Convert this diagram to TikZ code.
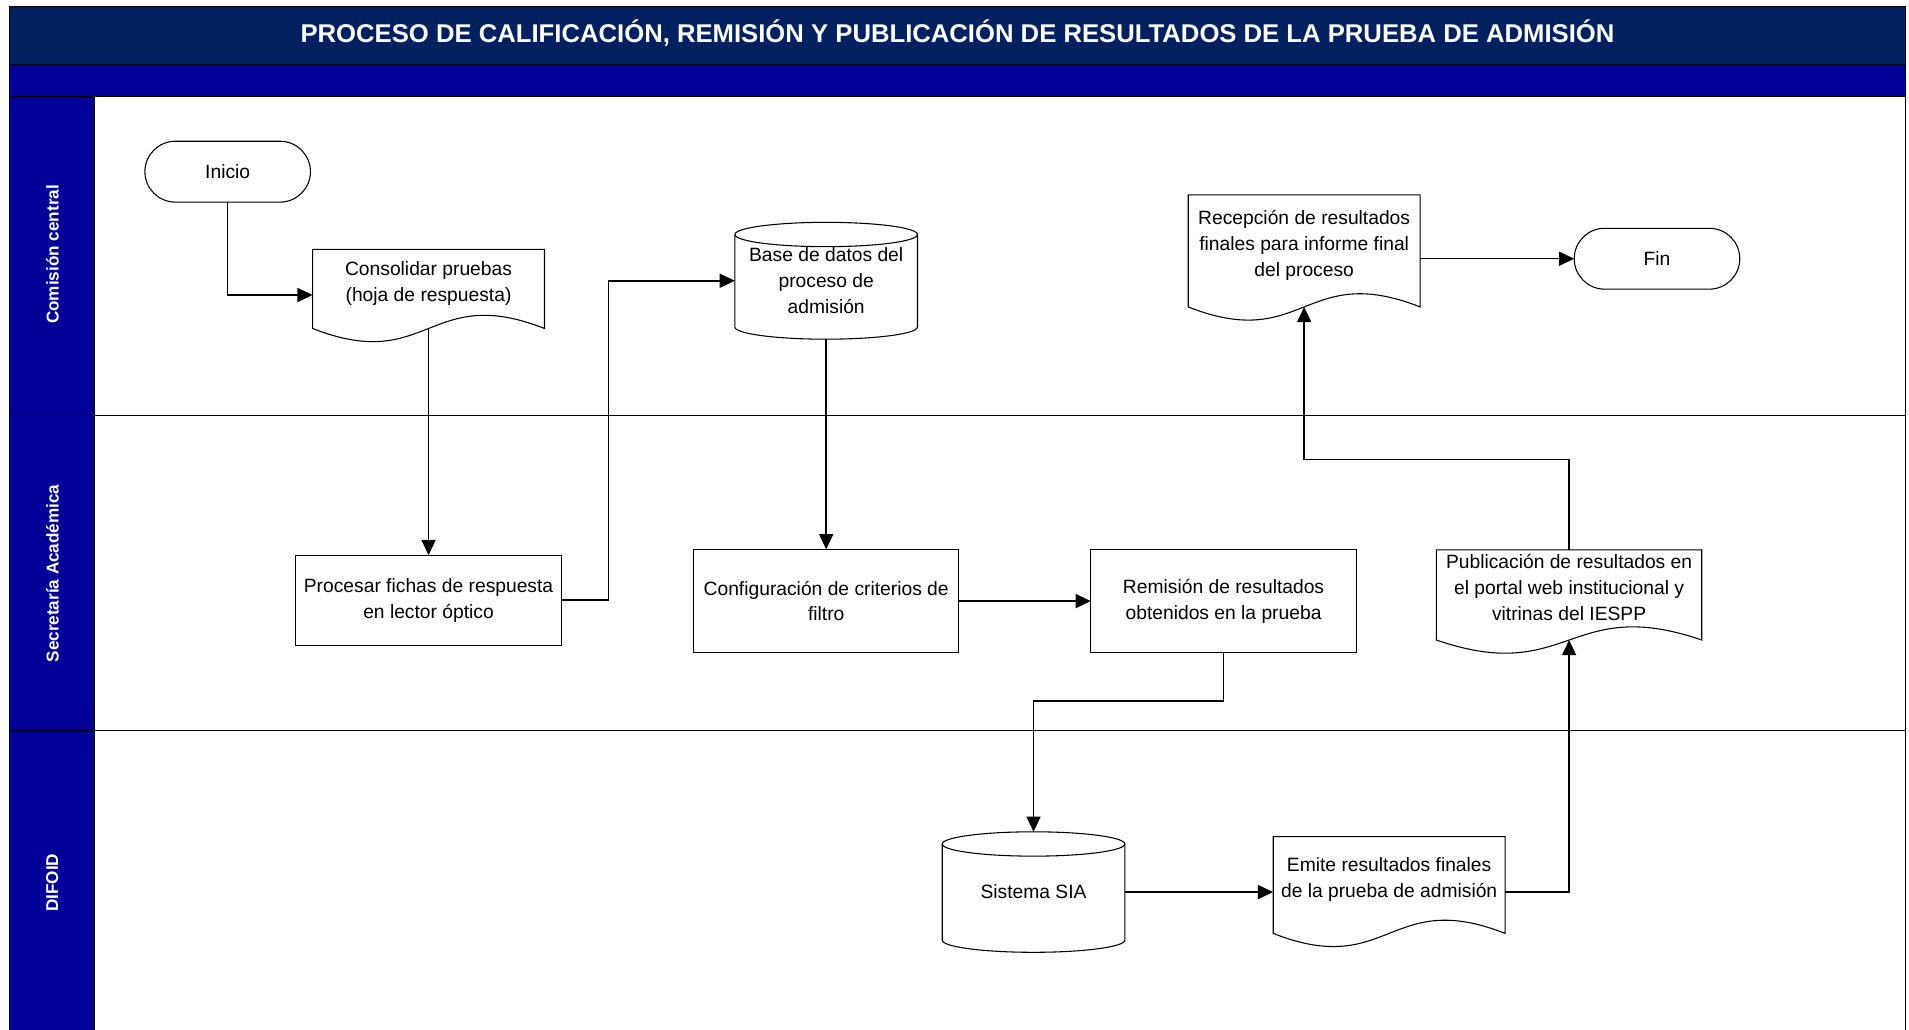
\documentclass[tikz,border=0pt]{standalone}
\usepackage{fontspec}
\setmainfont{Liberation Sans}
\usepackage{xcolor}
\usetikzlibrary{arrows.meta}
\definecolor{navy}{RGB}{0,32,96}
\definecolor{lane}{RGB}{0,0,153}

\begin{document}
\begin{tikzpicture}[x=0.02cm,y=-0.02cm,
        font=\fontsize{9}{12}\selectfont,
        proc/.style={rectangle,draw,line width=0.5pt,outer sep=0pt,minimum width=4.36cm,minimum height=1.7cm,align=center},
        term/.style={rectangle,draw,line width=0.5pt,outer sep=0pt,rounded corners=0.5cm,minimum width=2.72cm,minimum height=1cm},
        doc/.style={rectangle,outer sep=0pt,inner xsep=2pt,inner ysep=0pt,text depth=0.25cm,minimum width=3.81cm,align=center},
        db/.style={rectangle,outer sep=0pt,minimum width=3cm,align=center},
        flow/.style={-{Triangle[length=0.25cm,width=0.23cm]},line width=0.7pt},
        lanetext/.style={rotate=90,text=white,font=\bfseries\fontsize{8}{10}\selectfont}]
        \useasboundingbox (0,0) rectangle (1568,846);

        \fill[navy] (8,5) rectangle (1565,53);
        \fill[lane] (8,53) rectangle (1565,79);
        \fill[lane] (8,79) rectangle (78,850);
        \draw[line width=0.5pt] (8,5) rectangle (1565,850);
        \draw[line width=0.5pt] (8,53) -- (1565,53);
        \draw[line width=0.5pt] (8,79) -- (1565,79);
        \draw[line width=0.5pt] (78,79) -- (78,850);
        \draw[line width=0.5pt] (8,341) -- (1565,341);
        \draw[line width=0.5pt] (8,600) -- (1565,600);

        \node[text=white,font=\bfseries\fontsize{12}{14}\selectfont] (titulo) at (786.5,27)
            {PROCESO DE CALIFICACIÓN, REMISIÓN Y PUBLICACIÓN DE RESULTADOS DE LA PRUEBA DE ADMISIÓN};
        \node[lanetext] (comision) at (43,209) {Comisión central};
        \node[lanetext] (secretaria) at (43,471) {Secretaría Académica};
        \node[lanetext] (difoid) at (43,725) {DIFOID};

        \node[term] (inicio) at (187,141) {Inicio};
        \node[doc,minimum height=1.3cm] (consol) at (352,237.3) {Consolidar pruebas\\(hoja de respuesta)};
        \node[db,minimum height=1.92cm] (bd) at (678.6,230.6) {Base de datos del\\proceso de\\admisión};
        \node[doc,minimum height=1.84cm] (recep) at (1071.2,206.1) {Recepción de resultados\\finales para informe final\\del proceso};
        \node[term] (fin) at (1361,212.5) {Fin};
        \node[proc,minimum height=1.48cm] (procesar) at (352,493) {Procesar fichas de respuesta\\en lector óptico};
        \node[proc] (config) at (678.6,493.7) {Configuración de criterios de\\filtro};
        \node[proc] (remision) at (1005,493.7) {Remisión de resultados\\obtenidos en la prueba};
        \node[doc,minimum width=4.36cm,minimum height=1.48cm] (pub) at (1288.8,488.7) {Publicación de resultados en\\el portal web institucional y\\vitrinas del IESPP};
        \node[db,minimum height=1.98cm] (sia) at (848.9,732.7) {Sistema SIA};
        \node[doc,minimum height=1.59cm] (emite) at (1141,726.9) {Emite resultados finales\\de la prueba de admisión};

        \foreach \n in {consol,recep,pub,emite}
            \draw[line width=0.5pt] (\n.south west) -- (\n.north west) -- (\n.north east) -- (\n.south east)
                .. controls ([yshift=0.75cm]\n.south) and ([yshift=-0.75cm]\n.south) .. cycle;
        \foreach \n in {bd,sia} {
            \draw[line width=0.5pt] ([yshift=-0.2cm]\n.north) ellipse [x radius=1.5cm,y radius=0.2cm];
            \draw[line width=0.5pt] ([yshift=-0.2cm]\n.north west) -- ([yshift=0.2cm]\n.south west)
                arc [start angle=180,end angle=360,x radius=1.5cm,y radius=0.2cm] -- ([yshift=-0.2cm]\n.north east);
        }

        \draw[flow] (inicio) |- ([yshift=-0.1cm]consol.west);
        \draw[flow] (consol) -- (procesar);
        \draw[flow] (procesar.east) -- ++(39,0) |- (bd);
        \draw[flow] (bd) -- (config);
        \draw[flow] (config) -- (remision);
        \draw[flow] (remision.south) -- ++(0,39.5) -| (sia);
        \draw[flow] (sia) -- (sia -| emite.west);
        \draw[flow] (sia -| emite.east) -| (pub);
        \draw[flow] (pub.north) -- ++(0,-74.4) -| (recep);
        \draw[flow] (recep.east |- fin) -- (fin);
    \end{tikzpicture}
\end{document}
